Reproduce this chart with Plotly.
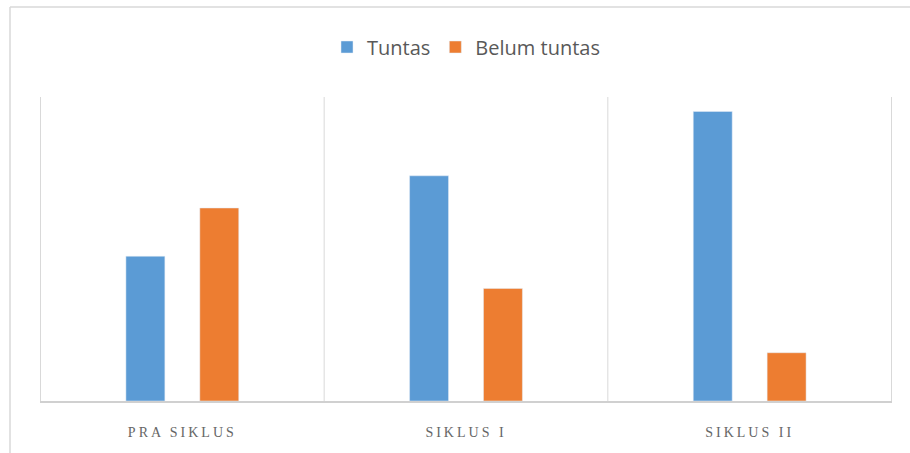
import plotly.graph_objects as go

categories = ["PRA SIKLUS", "SIKLUS I", "SIKLUS II"]
tuntas = [42.86, 66.67, 85.71]
belum_tuntas = [57.14, 33.33, 14.29]
series_names = ["Tuntas", "Belum tuntas"]

W, H = 910, 453
ml, mr, mt, mb = 40, 18, 97, 52
pw, ph = W - ml - mr, H - mt - mb

fig = go.Figure()
fig.add_trace(go.Bar(x=categories, y=tuntas, name=series_names[0], marker_color="#5B9BD5"))
fig.add_trace(go.Bar(x=categories, y=belum_tuntas, name=series_names[1], marker_color="#ED7D31"))

grid = "#d9d9d9"
shapes = []
for xv in [-0.5, 0.5, 1.5, 2.5]:
    shapes.append(dict(type="line", xref="x", yref="paper", x0=xv, x1=xv, y0=0, y1=1,
                       line=dict(color=grid, width=1), layer="below"))
# outer frame (left and top edges visible)
fx = (10 - ml) / pw
fy = 1 + (mt - 7) / ph
shapes.append(dict(type="line", xref="paper", yref="paper", x0=fx, x1=fx, y0=-1, y1=fy,
                   line=dict(color=grid, width=1.5)))
shapes.append(dict(type="line", xref="paper", yref="paper", x0=fx, x1=2, y0=fy, y1=fy,
                   line=dict(color=grid, width=1.5)))

fig.update_layout(
    width=W, height=H,
    margin=dict(l=ml, r=mr, t=mt, b=mb),
    paper_bgcolor="white", plot_bgcolor="white",
    barmode="group", bargap=0.479, bargroupgap=0.473,
    showlegend=True,
    legend=dict(orientation="h", x=0.5, xanchor="center", y=1 + (mt - 47) / ph, yanchor="middle",
                font=dict(family="Open Sans, sans-serif", size=20, color="#595959"),
                itemwidth=30, traceorder="normal"),
    xaxis=dict(showgrid=False, showline=True, linecolor="#d0d0d0", linewidth=1.5,
               ticks="", tickfont=dict(family="Liberation Serif, serif", size=14, color="#666666"),
               ticklabelstandoff=17),
    yaxis=dict(range=[0, 90], showgrid=False, zeroline=False, showticklabels=False, showline=False),
    shapes=shapes,
)
post = """
document.body.style.margin='0';
document.querySelectorAll('.xtick text').forEach(function(t){t.style.letterSpacing='3px';});
"""
fig.write_html("out.html", post_script=post, config={"displayModeBar": False})
